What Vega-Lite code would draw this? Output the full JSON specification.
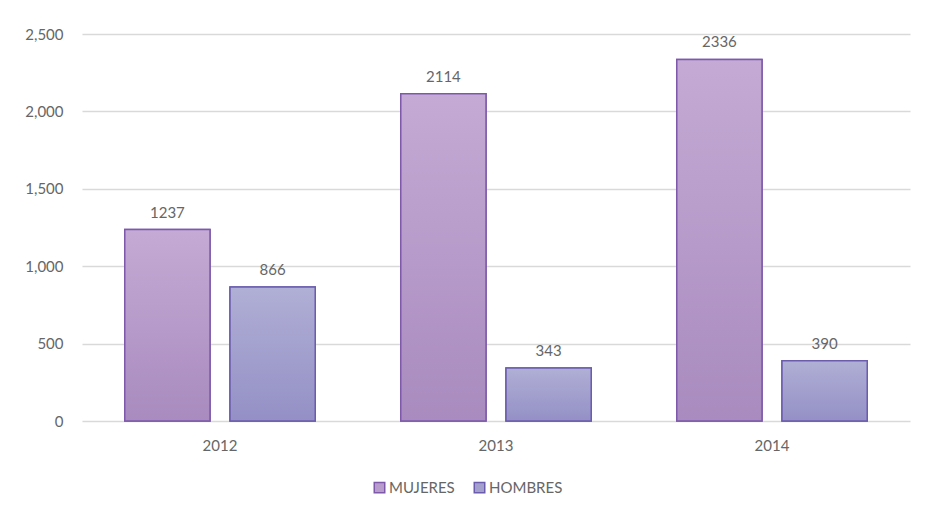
{
  "$schema": "https://vega.github.io/schema/vega-lite/v6.json",
  "width": 828,
  "height": 387,
  "autosize": {"type": "none"},
  "padding": {"left": 82, "top": 34, "right": 22, "bottom": 99},
  "background": "white",
  "config": {
    "view": {"stroke": null},
    "font": "Lato",
    "axis": {"labelFont": "Lato", "labelColor": "#666666", "labelFontSize": 15, "title": null},
    "legend": {"labelFont": "Lato", "labelColor": "#666666", "labelFontSize": 15}
  },
  "data": {
    "values": [
      {"year": "2012", "series": "MUJERES", "value": 1237},
      {"year": "2012", "series": "HOMBRES", "value": 866},
      {"year": "2013", "series": "MUJERES", "value": 2114},
      {"year": "2013", "series": "HOMBRES", "value": 343},
      {"year": "2014", "series": "MUJERES", "value": 2336},
      {"year": "2014", "series": "HOMBRES", "value": 390}
    ]
  },
  "encoding": {
    "x": {
      "field": "year", "type": "nominal",
      "scale": {"paddingInner": 0.31, "paddingOuter": 0.155},
      "axis": {"labelAngle": 0, "ticks": false, "domain": false, "labelPadding": 17}
    },
    "xOffset": {
      "field": "series", "type": "nominal",
      "scale": {"domain": ["MUJERES", "HOMBRES"], "paddingInner": 0.19, "paddingOuter": 0}
    },
    "y": {
      "field": "value", "type": "quantitative",
      "scale": {"domain": [0, 2500]},
      "axis": {"values": [0, 500, 1000, 1500, 2000, 2500], "format": ",d", "ticks": false, "domain": false, "gridColor": "#d9d9d9", "gridWidth": 1.3, "labelPadding": 19}
    }
  },
  "layer": [
    {
      "mark": {"type": "bar", "strokeWidth": 1.5},
      "encoding": {
        "fill": {
          "field": "series", "type": "nominal",
          "scale": {"domain": ["MUJERES", "HOMBRES"], "range": ["#b89ccb", "#a3a0cd"]},
          "legend": {"title": null, "orient": "none", "legendX": 290, "legendY": 446, "direction": "horizontal", "symbolType": "square", "symbolSize": 110, "symbolStrokeWidth": 1.5, "columnPadding": 16, "labelOffset": 2}
        },
        "stroke": {
          "field": "series", "type": "nominal",
          "scale": {"domain": ["MUJERES", "HOMBRES"], "range": ["#7e59aa", "#6b5cae"]},
          "legend": null
        }
      }
    },
    {
      "mark": {"type": "bar", "strokeWidth": 1.5},
      "encoding": {
        "fill": {
          "condition": {
            "test": "datum.series === 'MUJERES'",
            "value": {"gradient": "linear", "x1": 0, "y1": 0, "x2": 0, "y2": 1, "stops": [{"offset": 0, "color": "#c4aad4"}, {"offset": 1, "color": "#a98bbf"}]}
          },
          "value": {"gradient": "linear", "x1": 0, "y1": 0, "x2": 0, "y2": 1, "stops": [{"offset": 0, "color": "#b0afd5"}, {"offset": 1, "color": "#9490c6"}]}
        },
        "stroke": {
          "condition": {"test": "datum.series === 'MUJERES'", "value": "#7e59aa"},
          "value": "#6b5cae"
        }
      }
    },
    {
      "mark": {"type": "text", "baseline": "bottom", "dy": -9, "fontSize": 15, "color": "#666666", "font": "Lato"},
      "encoding": {
        "text": {"field": "value", "type": "quantitative", "format": "d"}
      }
    }
  ]
}
